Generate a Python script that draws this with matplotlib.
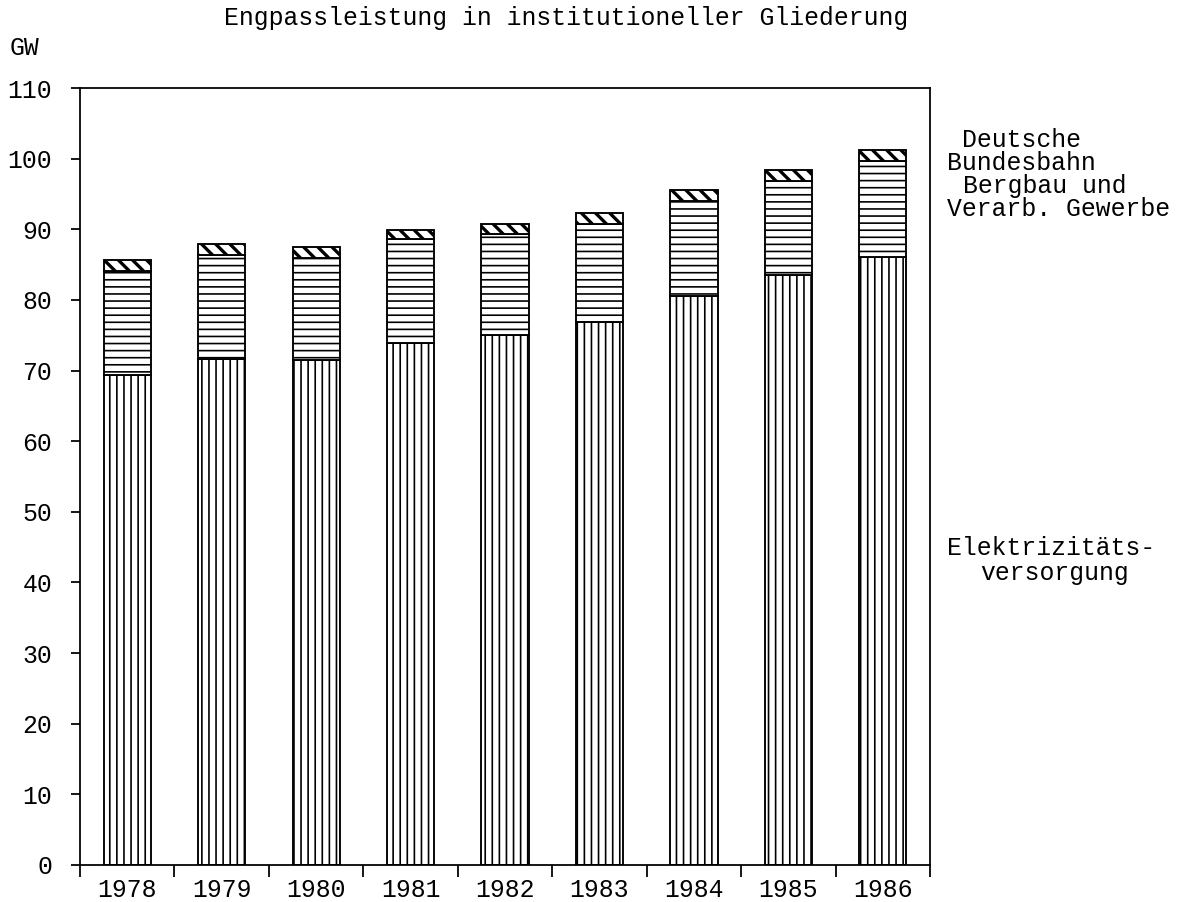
import matplotlib
matplotlib.use("Agg")
import matplotlib.pyplot as plt
import numpy as np

years = ['1978', '1979', '1980', '1981', '1982', '1983', '1984', '1985', '1986']
elektrizitaet = [69.3, 71.7, 71.5, 73.9, 75.0, 76.9, 80.5, 83.5, 86.1]
bergbau = [14.8, 14.7, 14.4, 14.7, 14.3, 13.8, 13.5, 13.4, 13.6]
bundesbahn = [1.6, 1.5, 1.6, 1.3, 1.5, 1.6, 1.5, 1.5, 1.5]
yticks = [0, 10, 20, 30, 40, 50, 60, 70, 80, 90, 100, 110]

DPI = 85
FONT = 'Liberation Mono'
FS = 21

plt.rcParams['font.family'] = [FONT, 'DejaVu Sans Mono']
plt.rcParams['hatch.linewidth'] = 1.4

fig = plt.figure(figsize=(1197 / DPI, 902 / DPI), dpi=DPI)
ax = fig.add_axes([80 / 1197, 37 / 902, 850 / 1197, 777 / 902])

x = np.arange(len(years))
el = np.array(elektrizitaet)
bg = np.array(bergbau)
bb = np.array(bundesbahn)

b1 = ax.bar(x, el, width=0.5, color='white', edgecolor='black', linewidth=1.6, hatch='||')
b2 = ax.bar(x, bg, bottom=el, width=0.5, color='white', edgecolor='black', linewidth=1.6, hatch='--')
b3 = ax.bar(x, bb, bottom=el + bg, width=0.5, color='white', edgecolor='black', linewidth=1.6, hatch='\\\\')
for p in b3:
    try:
        p.set_hatch_linewidth(2.8)
    except Exception:
        pass

ax.set_xlim(-0.5, len(years) - 0.5)
ax.set_ylim(0, 110)

ax.set_yticks(yticks)
ax.set_yticklabels([str(v) for v in yticks], fontsize=FS)
ax.tick_params(axis='y', direction='out', length=9 * 72 / DPI, width=1.5, pad=16)

ax.set_xticks(x)
ax.set_xticklabels(years, fontsize=FS)
ax.set_xticks(np.arange(len(years) + 1) - 0.5, minor=True)
ax.tick_params(axis='x', which='major', length=0, pad=11)
ax.tick_params(axis='x', which='minor', direction='out', length=12 * 72 / DPI, width=1.5)

for s in ax.spines.values():
    s.set_linewidth(1.5)

fig.text(224 / 1197, 1 - 18 / 902, 'Engpassleistung in institutioneller Gliederung',
         fontsize=FS, ha='left', va='center')
fig.text(10 / 1197, 1 - 48 / 902, 'GW', fontsize=FS, ha='left', va='center')

labels = [
    ('Deutsche', 962, 140),
    ('Bundesbahn', 947, 163),
    ('Bergbau und', 963, 186),
    ('Verarb. Gewerbe', 947, 209),
    ('Elektrizitäts-', 947, 548),
    ('versorgung', 980, 573),
]
for txt, px, py in labels:
    fig.text(px / 1197, 1 - py / 902, txt, fontsize=FS, ha='left', va='center')

fig.savefig('out.png', dpi=DPI)
